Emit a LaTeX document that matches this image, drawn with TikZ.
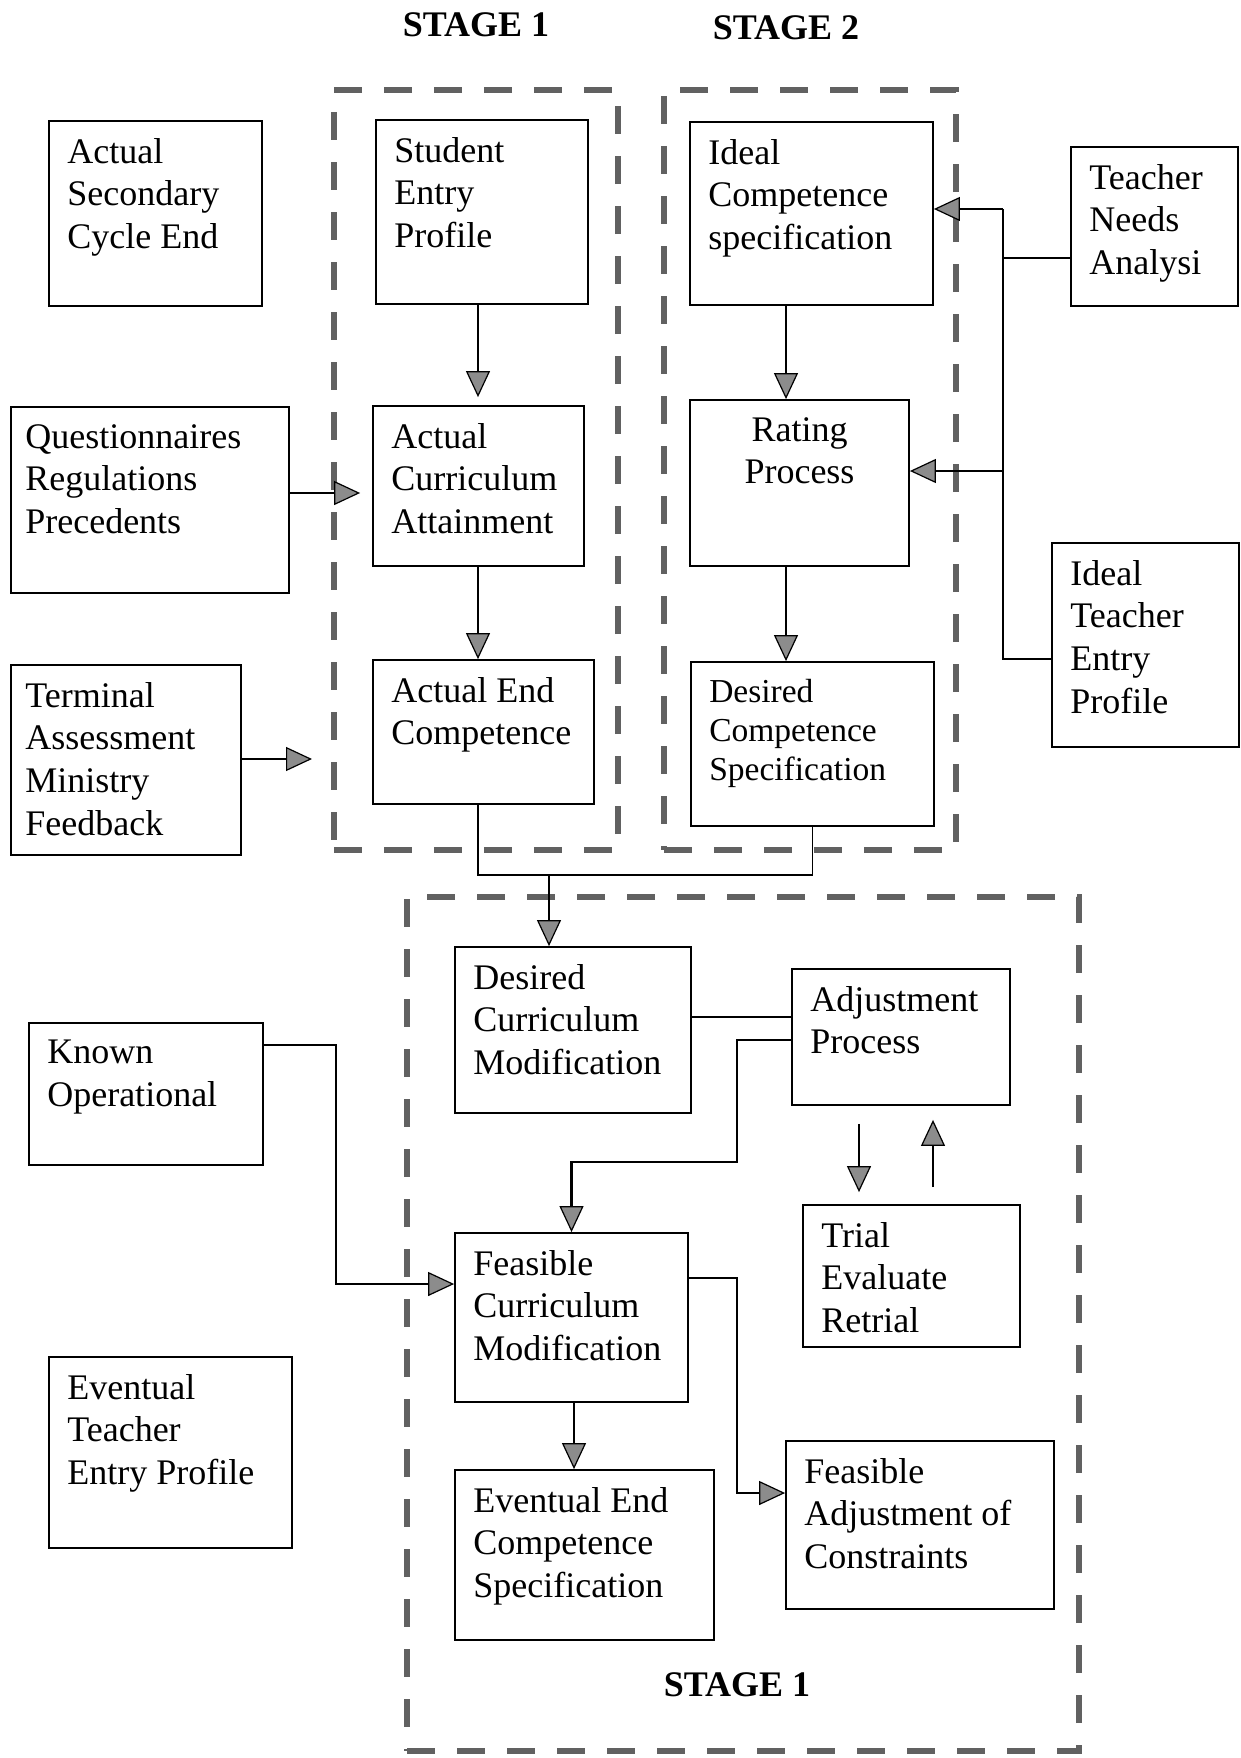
\documentclass[tikz,border=0pt]{standalone}
\usepackage{fontspec}
\setmainfont{Liberation Serif}
\usetikzlibrary{arrows.meta,fit}
\tikzset{
  boxst/.style={draw, line width=1.8pt, inner sep=0pt},
  txt/.style={font=\fontsize{36}{42.6}\selectfont, align=left, inner sep=0pt, anchor=north west},
  smalltxt/.style={font=\fontsize{33.5}{39.2}\selectfont},
  stagebox/.style={draw=black!62, line width=6pt, dash pattern=on 28pt off 22pt, inner sep=0pt},
  stagelbl/.style={font=\bfseries\fontsize{36}{40}\selectfont, inner sep=0pt},
  conn/.style={line width=1.8pt},
  arr/.style={line width=2.6pt, -{Triangle[length=26pt,width=24pt,fill=black!45,line width=1.2pt]}}
}
\newcommand{\mkbox}[7][]{%
  \node[boxst, fit={(#3,#4) (#5,#6)}] (#2) {};
  \node[txt, #1] (#2-t) at ([xshift=19pt,yshift=-18pt]#2.north west) {#7};}
\begin{document}
\begin{tikzpicture}[x=1pt,y=-1pt]
\useasboundingbox (0,0) rectangle (1240,1758);

% stage frames
\node[stagebox, fit={(334,90) (618,850)}] (stageA) {};
\node[stagebox, fit={(664,90) (956,850)}] (stageB) {};
\node[stagebox, fit={(407,897) (1079,1751)}] (stageC) {};

\node[stagelbl] (lblA) at (476,25) {STAGE 1};
\node[stagelbl] (lblB) at (786,28) {STAGE 2};
\node[stagelbl] (lblC) at (737,1685) {STAGE 1};

% boxes
\mkbox{asce}{49}{121}{262}{306}{Actual\\Secondary\\Cycle End}
\mkbox{sep}{376}{120}{588}{304}{Student\\Entry\\Profile}
\mkbox{ics}{690}{122}{933}{305}{Ideal\\Competence\\specification}
\mkbox{tna}{1071}{147}{1238}{306}{Teacher\\Needs\\Analysi}
\mkbox[xshift=-4pt]{qrp}{11}{407}{289}{593}{Questionnaires\\Regulations\\Precedents}
\mkbox{aca}{373}{406}{584}{566}{Actual\\Curriculum\\Attainment}
\node[boxst, fit={(690,400) (909,566)}] (rp) {};
\node[txt, align=center, anchor=north] (rp-t) at ([yshift=-18pt]rp.north) {Rating\\Process};
\mkbox{itep}{1052}{543}{1239}{747}{Ideal\\Teacher\\Entry\\Profile}
\mkbox[xshift=-4pt]{tamf}{11}{665}{241}{855}{Terminal\\Assessment\\Ministry\\Feedback}
\mkbox{aec}{373}{660}{594}{804}{Actual End\\Competence}
\mkbox[smalltxt]{dcs}{691}{662}{934}{826}{Desired\\Competence\\Specification}
\mkbox{dcm}{455}{947}{691}{1113}{Desired\\Curriculum\\Modification}
\mkbox{ap}{792}{969}{1010}{1105}{Adjustment\\Process}
\mkbox{ko}{29}{1023}{263}{1165}{Known\\Operational}
\mkbox{ter}{803}{1205}{1020}{1347}{Trial\\Evaluate\\Retrial}
\mkbox{fcm}{455}{1233}{688}{1402}{Feasible\\Curriculum\\Modification}
\mkbox{etep}{49}{1357}{292}{1548}{Eventual\\Teacher\\Entry Profile}
\mkbox{eecs}{455}{1470}{714}{1640}{Eventual End\\Competence\\Specification}
\mkbox{fac}{786}{1441}{1054}{1609}{Feasible\\Adjustment of\\Constraints}

% guide coordinates
\coordinate (xA) at (478,0);
\coordinate (xB) at (786,0);
\coordinate (xC) at (1003,0);
\coordinate (xD) at (549,0);
\coordinate (xE) at (737,0);
\coordinate (xF) at (574,0);
\coordinate (xG) at (859,0);
\coordinate (xH) at (933,0);
\coordinate (xK) at (336,0);
\coordinate (yQ) at (0,493);
\coordinate (yT) at (0,759);
\coordinate (yI) at (0,209);
\coordinate (yN) at (0,258);
\coordinate (yR) at (0,471);
\coordinate (yP) at (0,659);
\coordinate (yM) at (0,875);
\coordinate (yDA) at (0,1017);
\coordinate (yAP) at (0,1040);
\coordinate (yAF) at (0,1162);
\coordinate (yKO) at (0,1045);
\coordinate (yKF) at (0,1284);
\coordinate (yFR) at (0,1278);
\coordinate (yFA) at (0,1493);
\coordinate (tmend) at (312,759);

% stage 1 column
\draw[arr, shorten >=8pt] (sep.south -| xA) -- (aca.north -| xA);
\draw[arr] (aca.south -| xA) -- (aec.north -| xA);
\draw[arr, shorten >=12pt] (qrp.east |- yQ) -- (aca.west |- yQ);
\draw[arr] (tamf.east |- yT) -- (tmend);

% stage 2 column
\draw[arr] (ics.south -| xB) -- (rp.north -| xB);
\draw[arr] (rp.south -| xB) -- (dcs.north -| xB);

% teacher bus
\draw[conn] (tna.west |- yN) -- (xC |- yN);
\draw[conn] (itep.west |- yP) -- (xC |- yP) -- (xC |- yI);
\draw[arr] (xC |- yI) -- (ics.east |- yI);
\draw[arr] (xC |- yR) -- (rp.east |- yR);

% merge to stage C
\draw[conn] (aec.south -| xA) -- (xA |- yM) -| (dcs.south);
\draw[arr] (xD |- yM) -- (dcm.north -| xD);

% stage C
\draw[conn] (dcm.east |- yDA) -- (ap.west |- yDA);
\draw[arr] (ap.west |- yAP) -| (xE |- yAF) -| (fcm.north);
\draw[arr, shorten <=18pt, shorten >=12pt] (ap.south -| xG) -- (ter.north -| xG);
\draw[arr, shorten <=17pt, shorten >=14pt] (ter.north -| xH) -- (ap.south -| xH);
\draw[arr] (ko.east |- yKO) -| (xK |- yKF) -- (fcm.west |- yKF);
\draw[arr] (fcm.south -| xF) -- (eecs.north -| xF);
\draw[arr] (fcm.east |- yFR) -| (xE |- yFA) -- (fac.west |- yFA);
\end{tikzpicture}
\end{document}
